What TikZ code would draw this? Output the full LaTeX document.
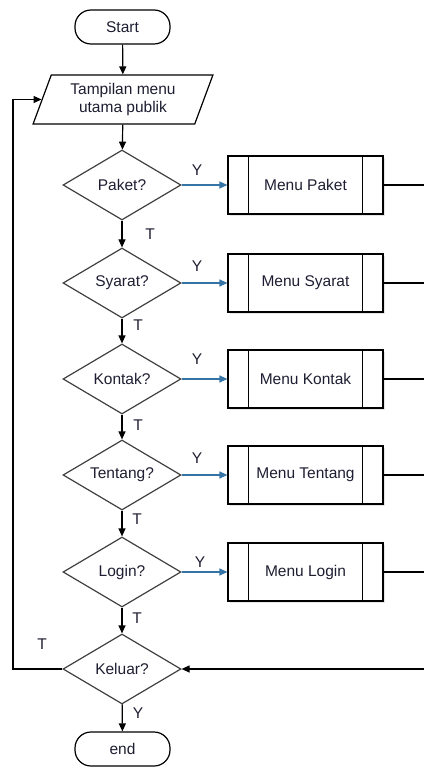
\documentclass[tikz,border=0pt]{standalone}
\usepackage{fontspec}
\setmainfont{Liberation Sans}
\usetikzlibrary{shapes.geometric,arrows.meta,shadows}

\definecolor{ylink}{RGB}{52,116,166}
\definecolor{outline}{RGB}{64,64,64}
\definecolor{txt}{RGB}{30,30,50}

\tikzset{
  terminal/.style={draw=black, line width=1.2pt, rounded corners=16pt, fill=white,
    minimum width=95pt, minimum height=34pt, inner sep=0pt},
  io/.style={trapezium, trapezium left angle=68, trapezium right angle=112,
    trapezium stretches=true, draw=black, line width=1.2pt, fill=white,
    minimum width=180pt, minimum height=49pt, inner sep=0pt, align=center},
  decision/.style={diamond, draw=outline, line width=1.2pt, fill=white,
    minimum width=118pt, minimum height=70pt, inner sep=0pt, aspect=1.69},
  process/.style={draw=black, line width=1.2pt, fill=white,
    minimum width=155pt, minimum height=58pt,
    drop shadow={shadow xshift=2pt, shadow yshift=-2pt, opacity=.2}},
  flow/.style={-{Triangle[length=8pt,width=7pt]}, line width=1.2pt},
  yes/.style={flow, draw=ylink},
  lbl/.style={inner sep=0pt, text=txt}
}

\begin{document}
\begin{tikzpicture}[x=1pt,y=-1pt,font=\fontsize{15.5pt}{18.5pt}\selectfont,text=txt]
  \useasboundingbox (0,0) rectangle (424,767);

  %% start and menu
  \node[terminal] (start) at (122.5,27) {Start};
  \node[io] (tampil) at (123,99.5) {Tampilan menu\\utama publik};

  %% decisions
  \node[decision] (paket)   at (122,185) {Paket?};
  \node[decision] (syarat)  at (122,283) {Syarat?};
  \node[decision] (kontak)  at (122,379) {Kontak?};
  \node[decision] (tentang) at (122,475) {Tentang?};
  \node[decision] (login)   at (122,572) {Login?};
  \node[decision] (keluar)  at (122,669) {Keluar?};

  \node[terminal] (end) at (122.5,749) {end};

  %% sub menus
  \node[process] (mpaket)   at (305.5,185) {Menu Paket};
  \node[process] (msyarat)  at (305.5,283) {Menu Syarat};
  \node[process] (mkontak)  at (305.5,379) {Menu Kontak};
  \node[process] (mtentang) at (305.5,475) {Menu Tentang};
  \node[process] (mlogin)   at (305.5,572) {Menu Login};

  \foreach \p in {mpaket,msyarat,mkontak,mtentang,mlogin} {
    \draw[line width=1.2pt] ([xshift=21pt]\p.north west) -- ([xshift=21pt]\p.south west);
    \draw[line width=1.2pt] ([xshift=-21pt]\p.north east) -- ([xshift=-21pt]\p.south east);
  }

  %% right edge
  \coordinate (rpaket)   at (424,185);
  \coordinate (rsyarat)  at (424,283);
  \coordinate (rkontak)  at (424,379);
  \coordinate (rtentang) at (424,475);
  \coordinate (rlogin)   at (424,572);
  \coordinate (rkeluar)  at (424,669);
  \coordinate (back)     at (13,669);

  %% main flow
  \draw[flow] (start) -- (tampil);
  \draw[flow] (tampil) -- (paket);
  \draw[flow] (paket) -- (syarat);
  \draw[flow] (syarat) -- (kontak);
  \draw[flow] (kontak) -- (tentang);
  \draw[flow] (tentang) -- (login);
  \draw[flow] (login) -- (keluar);
  \draw[flow] (keluar) -- (end);

  %% Y branches
  \draw[yes] (paket) -- (mpaket);
  \draw[yes] (syarat) -- (msyarat);
  \draw[yes] (kontak) -- (mkontak);
  \draw[yes] (tentang) -- (mtentang);
  \draw[yes] (login) -- (mlogin);

  \draw[line width=1.2pt] (mpaket) -- (rpaket);
  \draw[line width=1.2pt] (msyarat) -- (rsyarat);
  \draw[line width=1.2pt] (mkontak) -- (rkontak);
  \draw[line width=1.2pt] (mtentang) -- (rtentang);
  \draw[line width=1.2pt] (mlogin) -- (rlogin);
  \draw[flow] (rkeluar) -- (keluar);

  %% back to menu
  \draw[flow] (keluar.west) -- (back) |- (tampil.west);

  %% labels
  \node[lbl] (ypaket)   at (197,170) {Y};
  \node[lbl] (tpaket)   at (150,234) {T};
  \node[lbl] (ysyarat)  at (197,266) {Y};
  \node[lbl] (tsyarat)  at (138,325) {T};
  \node[lbl] (ykontak)  at (197,359) {Y};
  \node[lbl] (tkontak)  at (138,425) {T};
  \node[lbl] (ytentang) at (197,458) {Y};
  \node[lbl] (ttentang) at (137,519) {T};
  \node[lbl] (ylogin)   at (200,562) {Y};
  \node[lbl] (tlogin)   at (137,618) {T};
  \node[lbl] (tkeluar)  at (42,644) {T};
  \node[lbl] (ykeluar)  at (138,713) {Y};
\end{tikzpicture}
\end{document}
